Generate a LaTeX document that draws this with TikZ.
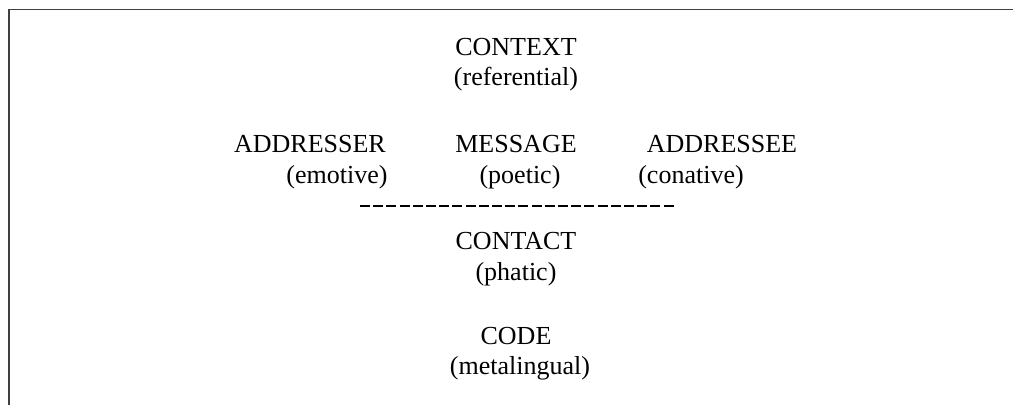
\documentclass[tikz,border=0pt]{standalone}
\usepackage{fontspec}
\setmainfont{Liberation Serif}
\begin{document}
\begin{tikzpicture}[x=1pt,y=-1pt,
  lbl/.style={inner sep=0pt,anchor=base,font=\fontsize{26}{30}\selectfont},
  frame/.style={line width=1.2pt,draw=black!75},
  dashline/.style={line width=1.2pt,dash pattern=on 10pt off 3.2pt}]
\useasboundingbox (0,0) rectangle (1013,405);
\coordinate (tl) at (9,9.5);
\coordinate (tr) at (1013,9.5);
\coordinate (bl) at (9,405);
\draw[frame] (tr) -- (tl) -- (bl);
\node[lbl] (context) at (516,55) {CONTEXT};
\node[lbl] (referential) at (516,85) {(referential)};
\node[lbl] (addresser) at (310,152) {ADDRESSER};
\node[lbl] (emotive) at (337,183) {(emotive)};
\node[lbl] (message) at (516,152) {MESSAGE};
\node[lbl] (poetic) at (520,183) {(poetic)};
\node[lbl] (addressee) at (722,152) {ADDRESSEE};
\node[lbl] (conative) at (691,183) {(conative)};
\coordinate (dl) at (360,206);
\coordinate (dr) at (675,206);
\draw[dashline] (dl) -- (dr);
\node[lbl] (contact) at (516,249) {CONTACT};
\node[lbl] (phatic) at (516,280) {(phatic)};
\node[lbl] (code) at (516,344) {CODE};
\node[lbl] (metalingual) at (520,374) {(metalingual)};
\end{tikzpicture}
\end{document}
